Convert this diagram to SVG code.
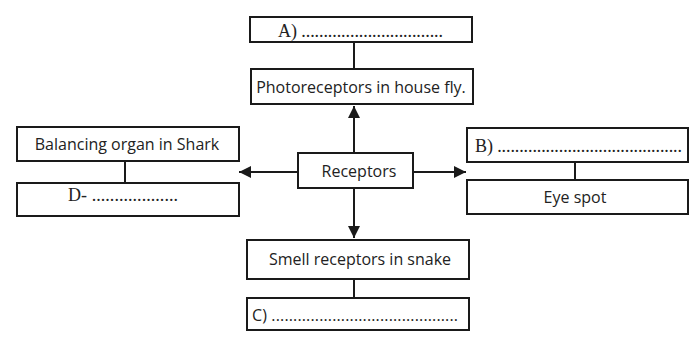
<svg xmlns="http://www.w3.org/2000/svg" width="700" height="338" viewBox="0 0 700 338">
  <style>
    .box { fill: #ffffff; stroke: #1a1a1a; stroke-width: 2; }
    .lbl { font-family: "Open Sans", "DejaVu Sans", sans-serif; font-size: 16px; fill: #222; text-anchor: middle; }
    .blank { font-family: "Liberation Serif", "Times New Roman", serif; font-size: 18px; fill: #222; }
    .blank-sans { font-family: "Open Sans", "DejaVu Sans", sans-serif; font-size: 16px; fill: #222; }
    .line { stroke: #1a1a1a; stroke-width: 2; fill: none; }
  </style>
  <defs>
    <marker id="arrow" viewBox="0 0 10 10" refX="10" refY="5" markerWidth="6" markerHeight="6" markerUnits="strokeWidth" orient="auto">
      <path d="M0,0 L10,5 L0,10 Z" fill="#1a1a1a"/>
    </marker>
  </defs>
  <rect width="700" height="338" fill="#ffffff"/>

  <!-- connectors -->
  <g id="connectors">
    <line class="line" x1="354" y1="42" x2="354" y2="69"/>
    <line class="line" x1="125" y1="161" x2="125" y2="183"/>
    <line class="line" x1="575" y1="162" x2="575" y2="180"/>
    <line class="line" x1="354" y1="279" x2="354" y2="298"/>
    <line class="line" x1="354" y1="153" x2="354" y2="106" marker-end="url(#arrow)"/>
    <line class="line" x1="354" y1="188" x2="354" y2="238" marker-end="url(#arrow)"/>
    <line class="line" x1="298" y1="172" x2="239" y2="172" marker-end="url(#arrow)"/>
    <line class="line" x1="413" y1="172" x2="466" y2="172" marker-end="url(#arrow)"/>
  </g>

  <g id="node-a">
    <rect class="box" x="250" y="17" width="222" height="25"/>
    <text class="blank" x="278" y="37" textLength="165" lengthAdjust="spacing">A) ................................</text>
  </g>
  <g id="node-photoreceptors">
    <rect class="box" x="251" y="69" width="222" height="35"/>
    <text class="lbl" x="361" y="93">Photoreceptors in house fly.</text>
  </g>
  <g id="node-receptors">
    <rect class="box" x="298" y="153" width="115" height="35"/>
    <text class="lbl" x="359" y="177">Receptors</text>
  </g>
  <g id="node-balancing">
    <rect class="box" x="17" y="127" width="222" height="34"/>
    <text class="lbl" x="127" y="150">Balancing organ in Shark</text>
  </g>
  <g id="node-d">
    <rect class="box" x="17" y="183" width="222" height="33"/>
    <text class="blank" x="68" y="201" textLength="110" lengthAdjust="spacing">D- ...................</text>
  </g>
  <g id="node-b">
    <rect class="box" x="467" y="128" width="221" height="34"/>
    <text class="blank" x="475" y="152" textLength="207" lengthAdjust="spacing">B) ..........................................</text>
  </g>
  <g id="node-eyespot">
    <rect class="box" x="467" y="180" width="221" height="34"/>
    <text class="lbl" x="575" y="203">Eye spot</text>
  </g>
  <g id="node-smell">
    <rect class="box" x="247" y="240" width="222" height="39"/>
    <text class="lbl" x="360" y="265">Smell receptors in snake</text>
  </g>
  <g id="node-c">
    <rect class="box" x="247" y="298" width="222" height="32"/>
    <text class="blank-sans" x="252" y="321" textLength="206" lengthAdjust="spacing">C) ...........................................</text>
  </g>
</svg>
